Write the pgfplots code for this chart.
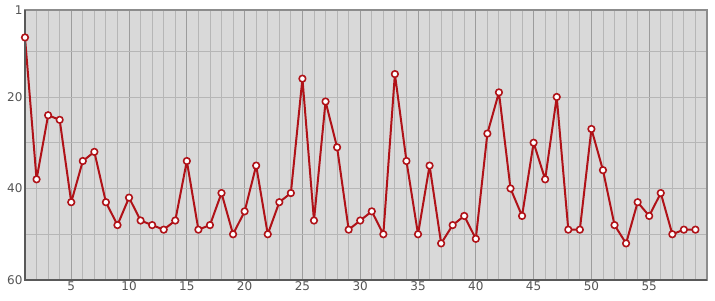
\documentclass[border=0pt]{standalone}
\usepackage{pgfplots}
\pgfplotsset{compat=1.18}
\usepackage{fontspec}
\setmainfont{DejaVu Sans}
\definecolor{bgc}{HTML}{D9D9D9}
\definecolor{minorg}{HTML}{B6B6B6}
\definecolor{majorg}{HTML}{9C9C9C}
\definecolor{linec}{HTML}{B01218}
\definecolor{labc}{HTML}{555555}
\begin{document}
\begin{tikzpicture}[x=1pt,y=1pt]
\path[use as bounding box] (-25pt,-20pt) rectangle (690pt,280pt);
\begin{axis}[
  at={(0,0)}, anchor=south west,
  scale only axis, width=682pt, height=270pt,
  xmin=1, xmax=60, ymin=1, ymax=60,
  y dir=reverse,
  axis background/.style={fill=bgc},
  xtick={5,10,...,55},
  minor xtick={1,...,60},
  ytick={1,20,40,60},
  minor ytick={10,20,30,40,50},
  xmajorgrids, xminorgrids, yminorgrids,
  minor grid style={minorg, line width=0.9pt},
  major grid style={majorg, line width=0.9pt},
  major tick length=0pt, minor tick length=0pt,
  axis line style={draw=gray!90, line width=1.5pt},
  ticklabel style={font=\fontsize{12}{14}\selectfont, text=labc},
  /pgf/number format/assume math mode=true,
  xticklabel style={yshift=2pt},
  yticklabel style={xshift=1pt},
  clip=false,
]
\addplot[linec, line width=2pt, line join=round, mark=*, mark size=3.3pt,
  mark options={fill=white, draw=linec, line width=1.6pt}]
  coordinates {
(1,7) (2,38) (3,24) (4,25) (5,43) (6,34) (7,32) (8,43) (9,48) (10,42)
(11,47) (12,48) (13,49) (14,47) (15,34) (16,49) (17,48) (18,41) (19,50) (20,45)
(21,35) (22,50) (23,43) (24,41) (25,16) (26,47) (27,21) (28,31) (29,49) (30,47)
(31,45) (32,50) (33,15) (34,34) (35,50) (36,35) (37,52) (38,48) (39,46) (40,51)
(41,28) (42,19) (43,40) (44,46) (45,30) (46,38) (47,20) (48,49) (49,49) (50,27)
(51,36) (52,48) (53,52) (54,43) (55,46) (56,41) (57,50) (58,49) (59,49)
  };
\draw[draw=gray!70!black, line width=2.2pt] (rel axis cs:0,1) -- (rel axis cs:0,0) -- (rel axis cs:1,0);
\end{axis}
\end{tikzpicture}
\end{document}
